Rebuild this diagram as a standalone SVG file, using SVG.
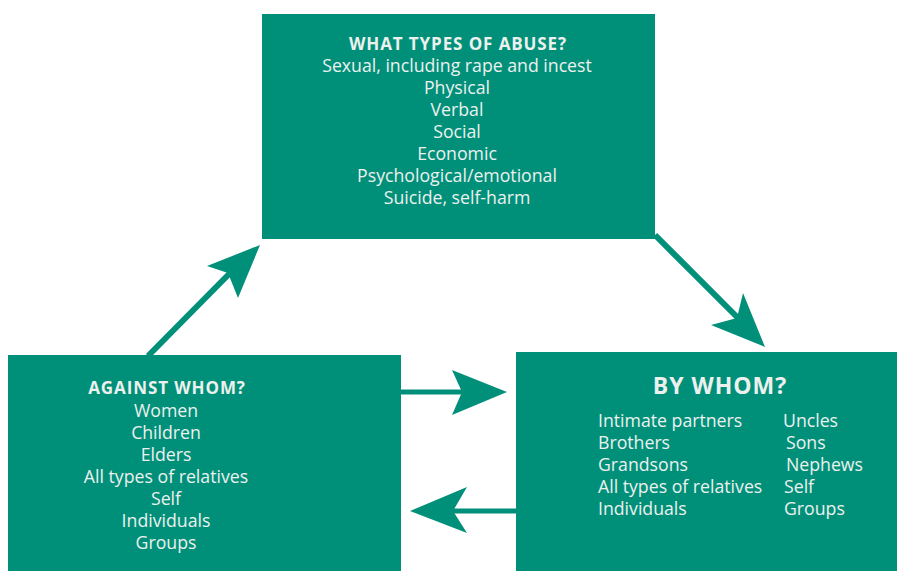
<svg xmlns="http://www.w3.org/2000/svg" width="897" height="571" viewBox="0 0 897 571">
<style>
.box{fill:#00907a}
.t{font-family:"Open Sans","Liberation Sans",Arial,sans-serif;font-size:17.7px;fill:#eef0ee}
.c{text-anchor:middle}
.h{font-weight:bold;font-size:17px;letter-spacing:0.9px}
.ln{stroke:#00907a;stroke-width:6;fill:none}
.hd{fill:#00907a}
</style>
<rect width="897" height="571" fill="#fff"/>
<g id="types">
<rect class="box" x="262" y="14" width="393" height="225"/>
<text class="t c h" x="458" y="50">WHAT TYPES OF ABUSE?</text>
<text class="t c" x="457" y="72">Sexual, including rape and incest</text>
<text class="t c" x="457" y="94">Physical</text>
<text class="t c" x="457" y="116">Verbal</text>
<text class="t c" x="457" y="138">Social</text>
<text class="t c" x="457" y="160">Economic</text>
<text class="t c" x="457" y="182">Psychological/emotional</text>
<text class="t c" x="457" y="204">Suicide, self-harm</text>
</g>
<g id="against">
<rect class="box" x="8" y="355" width="393" height="216"/>
<text class="t c h" x="167" y="394">AGAINST WHOM?</text>
<text class="t c" x="166" y="417">Women</text>
<text class="t c" x="166" y="439">Children</text>
<text class="t c" x="166" y="461">Elders</text>
<text class="t c" x="166" y="483">All types of relatives</text>
<text class="t c" x="166" y="505">Self</text>
<text class="t c" x="166" y="527">Individuals</text>
<text class="t c" x="166" y="549">Groups</text>
</g>
<g id="bywhom">
<rect class="box" x="516" y="352" width="381" height="219"/>
<text class="t c" x="720" y="394" style="font-weight:bold;font-size:23px;letter-spacing:1px">BY WHOM?</text>
<text class="t" x="598" y="427">Intimate partners</text>
<text class="t" x="598" y="449">Brothers</text>
<text class="t" x="598" y="471">Grandsons</text>
<text class="t" x="598" y="493">All types of relatives</text>
<text class="t" x="598" y="515">Individuals</text>
<text class="t" x="783" y="427">Uncles</text>
<text class="t" x="786" y="449">Sons</text>
<text class="t" x="786" y="471">Nephews</text>
<text class="t" x="784" y="493">Self</text>
<text class="t" x="784" y="515">Groups</text>
</g>
<g id="connectors">
<line class="ln" x1="148" y1="356" x2="232" y2="271"/>
<polygon class="hd" points="260,245 238,298 228,273 207,266"/>
<line class="ln" x1="655" y1="235" x2="738" y2="318"/>
<polygon class="hd" points="765,347 711,325 737,318 743,293"/>
<line class="ln" x1="401" y1="392" x2="465" y2="392" style="stroke-width:5"/>
<polygon class="hd" points="507,392 452,415 462,392 452,370"/>
<line class="ln" x1="516" y1="511" x2="450" y2="511" style="stroke-width:5"/>
<polygon class="hd" points="410,511 467,487 453,511 467,533"/>
</g>
</svg>
